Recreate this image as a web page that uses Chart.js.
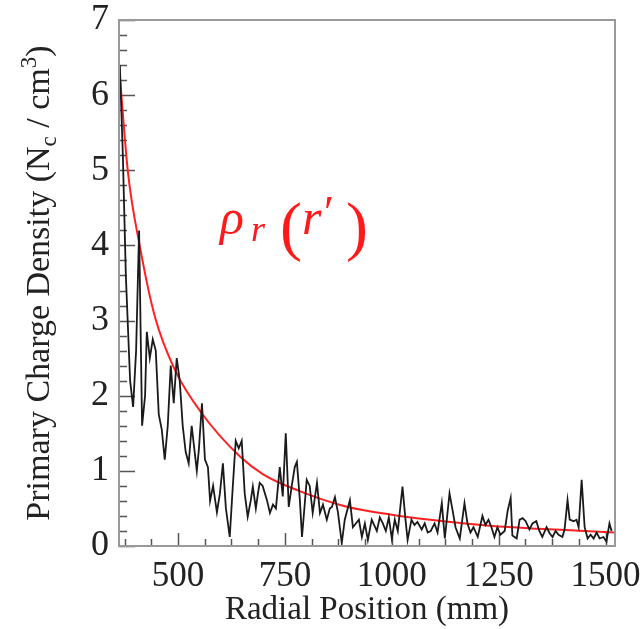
<!DOCTYPE html>
<html>
<head>
<meta charset="utf-8">
<script src="https://cdn.jsdelivr.net/npm/chart.js@4.4.0/dist/chart.umd.min.js"></script>
<style>
  html, body { margin: 0; padding: 0; background: #fff; }
  #wrap { width: 644px; height: 629px; position: relative; }
</style>
</head>
<body>
<div id="wrap"><canvas id="chart"></canvas></div>
<script>
// ── Data ─────────────────────────────────────────────────────────────────
const radialMm = [
  364, 371, 378, 388, 395, 402, 409, 416, 423, 427, 434, 441, 448, 455, 462, 469, 476, 483, 490, 497,
  504, 511, 518, 525, 532, 540, 544, 549, 556, 563, 570, 575, 582, 591, 598, 605, 612, 621, 628, 635,
  642, 649, 656, 663, 670, 675, 682, 687, 691, 698, 708, 715, 722, 729, 738, 745, 752, 759, 766, 773,
  778, 785, 790, 797, 801, 808, 815, 825, 832, 839, 848, 855, 860, 867, 874, 883, 890, 902, 909, 916,
  923, 930, 937, 944, 953, 965, 972, 979, 986, 993, 1000, 1007, 1014, 1025, 1032, 1037, 1046, 1053, 1060, 1070,
  1077, 1084, 1091, 1100, 1107, 1117, 1124, 1135, 1142, 1149, 1159, 1170, 1177, 1184, 1191, 1201, 1212, 1219, 1226, 1233,
  1240, 1247, 1254, 1264, 1271, 1278, 1282, 1292, 1299, 1306, 1313, 1322, 1329, 1338, 1345, 1352, 1362, 1369, 1376, 1383,
  1390, 1399, 1404, 1411, 1416, 1425, 1432, 1437, 1444, 1451, 1458, 1465, 1472, 1479, 1486, 1495, 1502, 1509, 1514
];
const chargeDensity = [
  6.4, 5.2, 3.6, 2.2, 1.85, 2.6, 4.2, 1.6, 2.0, 2.85, 2.5, 2.75, 2.6, 1.75, 1.55, 1.15, 1.6, 2.4, 1.9, 2.5,
  2.2, 1.6, 1.25, 1.1, 1.6, 1.2, 1.0, 1.3, 1.9, 1.15, 1.05, 0.6, 0.8, 0.45, 0.7, 1.1, 0.5, 0.12, 0.78, 1.4,
  1.3, 1.4, 0.7, 0.39, 0.6, 0.79, 0.5, 0.7, 0.84, 0.8, 0.61, 0.44, 0.55, 0.5, 1.05, 0.66, 1.5, 0.52, 0.8, 1.05,
  1.12, 0.61, 0.12, 0.6, 0.88, 0.8, 0.44, 0.84, 0.44, 0.55, 0.35, 0.5, 0.52, 0.65, 0.45, 0.04, 0.35, 0.61, 0.25, 0.3,
  0.35, 0.12, 0.3, 0.08, 0.35, 0.2, 0.38, 0.3, 0.2, 0.38, 0.1, 0.35, 0.2, 0.79, 0.35, 0.08, 0.35, 0.28, 0.32, 0.22,
  0.3, 0.18, 0.2, 0.3, 0.18, 0.57, 0.1, 0.7, 0.48, 0.25, 0.1, 0.57, 0.3, 0.18, 0.25, 0.12, 0.4, 0.28, 0.35, 0.25,
  0.12, 0.25, 0.15, 0.2, 0.47, 0.64, 0.14, 0.1, 0.35, 0.37, 0.33, 0.22, 0.3, 0.33, 0.2, 0.12, 0.25, 0.17, 0.12, 0.2,
  0.15, 0.12, 0.22, 0.61, 0.35, 0.33, 0.35, 0.25, 0.88, 0.25, 0.1, 0.15, 0.1, 0.18, 0.1, 0.12, 0.06, 0.3, 0.2
];

// red model curve rho_r(r')
const fitMm      = [364, 383, 411, 446, 493, 555, 645, 700, 780, 890, 1007, 1120, 1229, 1340, 1451, 1520];
const fitDensity = [6.25, 4.97, 3.98, 3.05, 2.34, 1.77, 1.19, 0.95, 0.74, 0.53, 0.41, 0.33, 0.27, 0.23, 0.20, 0.18];

const xTickValues = [500, 750, 1000, 1250, 1500];
const yTickValues = [0, 1, 2, 3, 4, 5, 6, 7];

const SERIF = '"Liberation Serif", "Times New Roman", serif';

// ── Frame, inward ticks, titles and formula ──────────────────────────────
const decorations = {
    id: 'decorations',
    beforeDatasetsDraw(chart) {
        const { ctx, chartArea: a, scales: { x, y } } = chart;
        ctx.save();
        ctx.strokeStyle = '#555';
        ctx.lineWidth = 1.5;
        ctx.beginPath();
        for (let v = 375; v <= x.max; v += 62.5) {
            const px = Math.round(x.getPixelForValue(v)) + 0.5;
            const len = v % 250 === 0 ? 13 : 7;
            ctx.moveTo(px, a.bottom);
            ctx.lineTo(px, a.bottom - len);
        }
        for (let i = 0; i <= 35; i++) {
            const py = Math.round(y.getPixelForValue(i * 0.2)) + 0.5;
            const len = i % 5 === 0 ? 16 : 8;
            ctx.moveTo(a.left, py);
            ctx.lineTo(a.left + len, py);
        }
        ctx.stroke();
        ctx.restore();
    },
    afterDatasetsDraw(chart) {
        const { ctx, chartArea: a } = chart;
        ctx.save();
        ctx.strokeStyle = '#999';
        ctx.lineWidth = 2;
        ctx.strokeRect(a.left, a.top, a.width, a.height);

        ctx.fillStyle = '#222';
        // x title
        ctx.font = '33px ' + SERIF;
        ctx.textAlign = 'center';
        ctx.textBaseline = 'alphabetic';
        ctx.fillText('Radial Position (mm)', (a.left + a.right) / 2, 619);

        // y title with sub/superscript
        const big = '34px ' + SERIF, small = '23px ' + SERIF;
        const parts = [
            { t: 'Primary Charge Density (N', f: big, dy: 0 },
            { t: 'c', f: small, dy: 7 },
            { t: ' / cm', f: big, dy: 0 },
            { t: '3', f: small, dy: -13 },
            { t: ')', f: big, dy: 0 },
        ];
        let total = 0;
        parts.forEach(p => { ctx.font = p.f; p.w = ctx.measureText(p.t).width; total += p.w; });
        ctx.translate(38, (a.top + a.bottom) / 2);
        ctx.rotate(-Math.PI / 2);
        ctx.textAlign = 'left';
        let cx = -total / 2;
        parts.forEach(p => {
            ctx.font = p.f;
            ctx.fillText(p.t, cx, 11 + p.dy);
            cx += p.w;
        });
        ctx.restore();

        // formula label rho_r(r')
        ctx.save();
        ctx.fillStyle = '#ff1a1a';
        ctx.textBaseline = 'alphabetic';
        ctx.textAlign = 'left';
        const it = 'italic 50px ' + SERIF;
        const pieces = [
            { t: 'ρ', f: it, x: 220, y: 234 },
            { t: 'r', f: 'italic 36px ' + SERIF, x: 251, y: 241 },
            { t: '(', f: '66px ' + SERIF, x: 280, y: 248 },
            { t: 'r', f: it, x: 302, y: 234 },
            { t: '′', f: '46px ' + SERIF, x: 324, y: 228 },
            { t: ')', f: '66px ' + SERIF, x: 346, y: 248 },
        ];
        pieces.forEach(p => {
            ctx.font = p.f;
            ctx.fillText(p.t, p.x, p.y);
        });
        ctx.restore();
    }
};

function init() {
    const canvas = document.getElementById('chart');
    new Chart(canvas, {
        type: 'scatter',
        data: {
            datasets: [
                {
                    data: radialMm.map((r, i) => ({ x: r, y: chargeDensity[i] })),
                    showLine: true,
                    borderColor: '#1a1a1a',
                    borderWidth: 1.8,
                    pointRadius: 0,
                    tension: 0,
                },
                {
                    data: fitMm.map((r, i) => ({ x: r, y: fitDensity[i] })),
                    showLine: true,
                    borderColor: '#ff2020',
                    borderWidth: 2,
                    pointRadius: 0,
                    cubicInterpolationMode: 'monotone',
                },
            ],
        },
        options: {
            responsive: true,
            maintainAspectRatio: false,
            animation: false,
            layout: { padding: { top: 20, right: 29, left: 0, bottom: 0 } },
            plugins: { legend: { display: false }, tooltip: { enabled: false } },
            scales: {
                x: {
                    type: 'linear',
                    min: 362,
                    max: 1522,
                    afterBuildTicks: s => { s.ticks = xTickValues.map(v => ({ value: v })); },
                    afterFit: s => { s.height = 83; s.paddingLeft = 0; s.paddingRight = 0; },
                    grid: { display: false, drawTicks: false },
                    border: { display: false },
                    ticks: {
                        color: '#222',
                        padding: 10,
                        maxRotation: 0,
                        autoSkip: false,
                        callback: v => String(v),
                        font: { family: SERIF, size: 35 },
                    },
                },
                y: {
                    type: 'linear',
                    min: 0,
                    max: 7,
                    afterBuildTicks: s => { s.ticks = yTickValues.map(v => ({ value: v })); },
                    afterFit: s => { s.width = 119; s.paddingTop = 0; s.paddingBottom = 0; },
                    grid: { display: false, drawTicks: false },
                    border: { display: false },
                    ticks: {
                        color: '#222',
                        padding: 10,
                        autoSkip: false,
                        callback: v => String(v),
                        font: { family: SERIF, size: 36 },
                    },
                },
            },
        },
        plugins: [decorations],
    });
}

if (document.readyState === 'loading') {
    document.addEventListener('DOMContentLoaded', init);
} else {
    init();
}
</script>
</body>
</html>
